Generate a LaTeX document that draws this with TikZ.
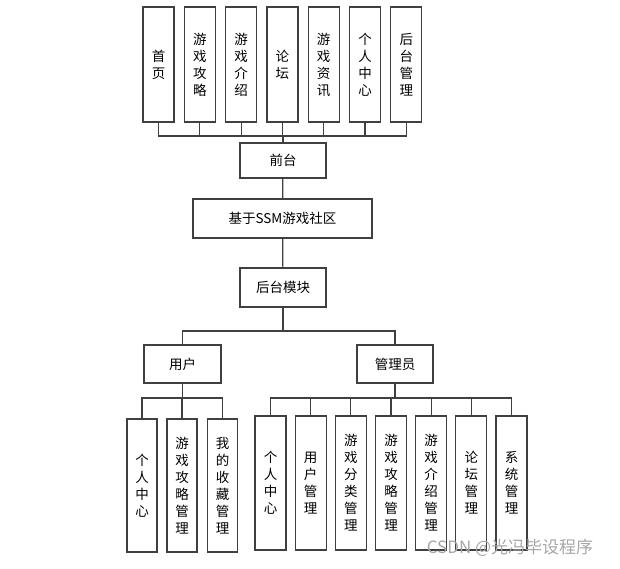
\documentclass[tikz,border=0pt]{standalone}
\usepackage{fontspec}
\setmainfont{Liberation Sans}
\newfontfamily\cjk{Noto Sans CJK SC}
\usetikzlibrary{positioning, calc}

\begin{document}
\begin{tikzpicture}[
    x=1pt, y=-1pt,
    % box with horizontal text
    hbox/.style={rectangle, draw=black!75, line width=1.2pt, inner sep=0pt,
        font=\cjk\fontsize{13.5}{17}\selectfont},
    % tall box with vertical text
    vbox/.style={rectangle, draw=black!75, line width=1.2pt, inner sep=0pt,
        minimum width=31pt, align=center,
        font=\cjk\fontsize{13.5}{17}\selectfont},
    % connector
    link/.style={draw=black!75, line width=1.2pt},
]
\useasboundingbox (0,0) rectangle (620,568);

% ============================================================
% Front end and its modules
% ============================================================
\foreach \txt [count=\i from 0] in {首\\页, 游\\戏\\攻\\略, 游\\戏\\介\\绍, 论\\坛,
        游\\戏\\资\\讯, 个\\人\\中\\心, 后\\台\\管\\理} {
    \node[vbox, minimum height=115pt] (m\i) at (158.5+41.3*\i, 64.5) {\txt};
}

\node[hbox, minimum width=86pt, minimum height=35pt] (front) at (283, 160.5) {前台};
\coordinate (topbus) at (283, 136);
\foreach \i in {0,...,6} {
    \draw[link] (front.north) -- (front.north |- topbus) -| (m\i.south);
}

% ============================================================
% System root and back end
% ============================================================
\node[hbox, minimum width=179pt, minimum height=39pt] (sys) at (282.5, 218.5) {基于SSM游戏社区};
\node[hbox, minimum width=86pt, minimum height=39pt] (back) at (283, 287.5) {后台模块};
\draw[link] (front) -- (sys);
\draw[link] (sys) -- (back);

% --- user and admin ---
\node[hbox, minimum width=77pt, minimum height=38pt] (user) at (182.5, 364) {用户};
\node[hbox, minimum width=76pt, minimum height=38pt] (admin) at (395, 364) {管理员};
\coordinate (midbus) at (283, 331);
\draw[link] (back.south) -- (back.south |- midbus) -| (user.north);
\draw[link] (back.south |- midbus) -| (admin.north);

% ============================================================
% User modules
% ============================================================
\foreach \txt/\x [count=\i from 0] in {个\\人\\中\\心/142, 游\\戏\\攻\\略\\管\\理/182,
        我\\的\\收\\藏\\管\\理/222.5} {
    \node[vbox, minimum width=30pt, minimum height=133pt] (u\i) at (\x, 485.5) {\txt};
}
\coordinate (userbus) at (182, 398);
\foreach \i in {0,1,2} {
    \draw[link] (user.south) -- (user.south |- userbus) -| (u\i.north);
}

% ============================================================
% Admin modules
% ============================================================
\foreach \txt [count=\i from 0] in {个\\人\\中\\心, 用\\户\\管\\理, 游\\戏\\分\\类\\管\\理,
        游\\戏\\攻\\略\\管\\理, 游\\戏\\介\\绍\\管\\理, 论\\坛\\管\\理, 系\\统\\管\\理} {
    \node[vbox, minimum height=134pt] (a\i) at (270.5+40.17*\i, 483) {\txt};
}
\coordinate (adminbus) at (395, 398);
\foreach \i in {0,...,6} {
    \draw[link] (admin.south) -- (admin.south |- adminbus) -| (a\i.north);
}

% --- watermark ---
\node[text=black!35, font=\cjk\fontsize{17}{17}\selectfont, inner sep=0pt] (mark) at (510, 548) {CSDN @光冯毕设程序};

\end{tikzpicture}
\end{document}
